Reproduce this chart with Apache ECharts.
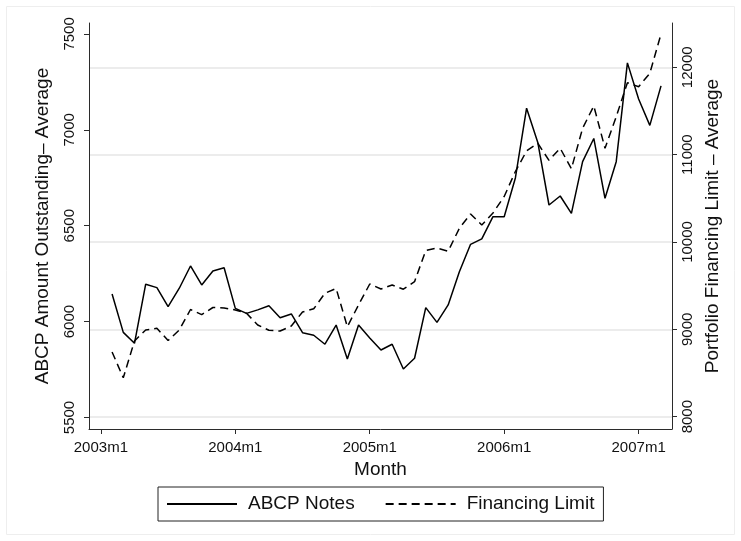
<!DOCTYPE html>
<html>
<head>
<meta charset="utf-8">
<script src="https://cdn.jsdelivr.net/npm/echarts@6/dist/echarts.min.js"></script>
<style>
  html, body { margin: 0; padding: 0; background: #ffffff; }
  #chart { width: 741px; height: 541px; }
</style>
</head>
<body>
<div id="chart"></div>
<script>
// Monthly averages, 2003m2 - 2007m3
const months = [
  '2003m2','2003m3','2003m4','2003m5','2003m6','2003m7','2003m8','2003m9','2003m10','2003m11','2003m12',
  '2004m1','2004m2','2004m3','2004m4','2004m5','2004m6','2004m7','2004m8','2004m9','2004m10','2004m11','2004m12',
  '2005m1','2005m2','2005m3','2005m4','2005m5','2005m6','2005m7','2005m8','2005m9','2005m10','2005m11','2005m12',
  '2006m1','2006m2','2006m3','2006m4','2006m5','2006m6','2006m7','2006m8','2006m9','2006m10','2006m11','2006m12',
  '2007m1','2007m2','2007m3'
];

// ABCP amount outstanding (left axis)
const abcpNotes = [
  6144, 5944, 5887, 6195, 6177, 6078, 6174, 6290, 6191, 6264, 6281,
  6069, 6043, 6061, 6083, 6020, 6040, 5942, 5929, 5882, 5982, 5805, 5982,
  5915, 5852, 5882, 5753, 5809, 6073, 5996, 6087, 6260, 6403, 6431, 6547,
  6547, 6749, 7113, 6934, 6608, 6655, 6564, 6834, 6955, 6643, 6834, 7349,
  7161, 7023, 7229
];

// Portfolio financing limit (right axis)
const financingLimit = [
  8741, 8445, 8867, 8993, 9012, 8872, 8993, 9227, 9168, 9250, 9244,
  9222, 9184, 9050, 8989, 8981, 9038, 9199, 9235, 9413, 9468, 9030, 9279,
  9519, 9462, 9508, 9459, 9546, 9903, 9931, 9894, 10157, 10321, 10195, 10332,
  10521, 10807, 11042, 11130, 10935, 11073, 10838, 11302, 11557, 11073, 11434, 11824,
  11778, 11931, 12381
];

const yearTicks = ['2003m1', '2004m1', '2005m1', '2006m1', '2007m1'];
const leftTicks = [5500, 6000, 6500, 7000, 7500];
const rightTicks = [8000, 9000, 10000, 11000, 12000];

// month string -> months since 2003m1
function monthIndex(s) {
  const parts = s.split('m');
  return (Number(parts[0]) - 2003) * 12 + (Number(parts[1]) - 1);
}

const FONT = 'Liberation Sans';
const AXIS_COLOR = '#2b2b2b';
const plain = function (v) { return String(v); };

const chart = echarts.init(document.getElementById('chart'), null, { renderer: 'canvas' });

const option = {
  backgroundColor: '#ffffff',
  animation: false,
  textStyle: { fontFamily: FONT },
  graphic: [{
    type: 'rect',
    shape: { x: 6.5, y: 6.5, width: 728, height: 528 },
    style: { fill: 'none', stroke: '#eeeeee', lineWidth: 1 },
    silent: true,
    z: -10
  }],
  grid: { left: 89, right: 69, top: 23, bottom: 112, containLabel: false },
  legend: {
    left: 158,
    top: 487,
    orient: 'horizontal',
    data: ['ABCP Notes', 'Financing Limit'],
    itemWidth: 70,
    itemHeight: 22,
    itemGap: 30,
    padding: [6, 9, 6, 8],
    borderColor: '#222222',
    borderWidth: 1,
    itemStyle: { opacity: 0 },
    textStyle: { fontFamily: FONT, fontSize: 19, color: '#111111', lineHeight: 22, padding: [0, 0, 0, 6] }
  },
  xAxis: {
    type: 'value',
    min: -1.06,
    max: 50.98,
    name: 'Month',
    nameLocation: 'middle',
    nameGap: 27,
    nameTextStyle: { fontFamily: FONT, fontSize: 19, color: '#111111' },
    axisLine: { show: true, onZero: false, lineStyle: { color: AXIS_COLOR, width: 1 } },
    axisTick: { show: true, length: 5, lineStyle: { color: AXIS_COLOR }, customValues: yearTicks.map(monthIndex) },
    axisLabel: {
      customValues: yearTicks.map(monthIndex),
      margin: 11,
      fontFamily: FONT,
      fontSize: 15,
      color: '#111111',
      formatter: function (v) {
        const t = yearTicks.find(function (s) { return monthIndex(s) === v; });
        return t || '';
      }
    },
    splitLine: { show: false }
  },
  yAxis: [{
    type: 'value',
    position: 'left',
    min: 5440,
    max: 7557,
    name: 'ABCP Amount Outstanding\u2013 Average',
    nameLocation: 'middle',
    nameRotate: 90,
    nameGap: 37,
    nameTextStyle: { fontFamily: FONT, fontSize: 19, color: '#111111' },
    axisLine: { show: true, onZero: false, lineStyle: { color: AXIS_COLOR, width: 1 } },
    axisTick: { show: true, length: 5, lineStyle: { color: AXIS_COLOR }, customValues: leftTicks },
    axisLabel: { customValues: leftTicks, rotate: 90, margin: 12, fontFamily: FONT, fontSize: 15, color: '#111111', formatter: plain },
    splitLine: { show: false }
  }, {
    type: 'value',
    position: 'right',
    min: 7859,
    max: 12507,
    name: 'Portfolio Financing Limit \u2013 Average',
    nameLocation: 'middle',
    nameRotate: 90,
    nameGap: 30,
    nameTextStyle: { fontFamily: FONT, fontSize: 19, color: '#111111' },
    axisLine: { show: true, onZero: false, lineStyle: { color: AXIS_COLOR, width: 1 } },
    axisTick: { show: true, length: 5, lineStyle: { color: AXIS_COLOR }, customValues: rightTicks },
    axisLabel: { customValues: rightTicks, rotate: 90, margin: 8, fontFamily: FONT, fontSize: 15, color: '#111111', formatter: plain },
    splitLine: { show: true, lineStyle: { color: '#e6e6e6', width: 1.5 } }
  }],
  series: [{
    name: 'ABCP Notes',
    type: 'line',
    yAxisIndex: 0,
    symbol: 'none',
    showSymbol: false,
    lineStyle: { color: '#000000', width: 1.5, type: 'solid' },
    itemStyle: { color: '#000000' },
    data: months.map(function (m, i) { return [monthIndex(m), abcpNotes[i]]; }),
    z: 3
  }, {
    name: 'Financing Limit',
    type: 'line',
    yAxisIndex: 1,
    symbol: 'none',
    showSymbol: false,
    lineStyle: { color: '#000000', width: 1.5, type: [8, 5] },
    itemStyle: { color: '#000000' },
    data: months.map(function (m, i) { return [monthIndex(m), financingLimit[i]]; }),
    z: 3
  }]
};

chart.setOption(option);
</script>
</body>
</html>
